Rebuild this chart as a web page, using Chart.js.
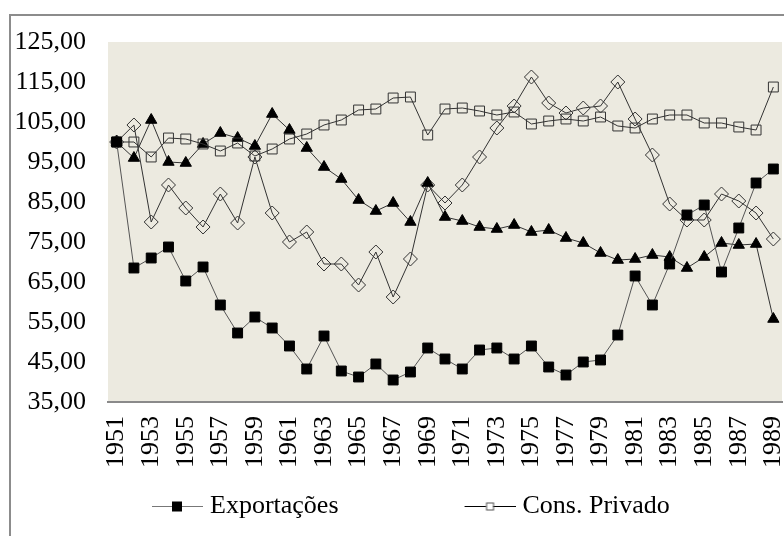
<!DOCTYPE html>
<html>
<head>
<meta charset="utf-8">
<script src="https://cdn.jsdelivr.net/npm/chart.js@4/dist/chart.umd.min.js"></script>
<style>
  html, body { margin: 0; padding: 0; background: #fff; overflow: hidden; width: 784px; height: 536px; }
  #frame { position: absolute; left: 9px; top: 14px; width: 820px; height: 560px; border: 2px solid #8c8c8c; box-sizing: border-box; }
  #chart { position: absolute; left: 0; top: 0; }
</style>
</head>
<body>
<div id="frame"></div>
<canvas id="chart" width="800" height="529"></canvas>
<script>
const years = ['1951', '1952', '1953', '1954', '1955', '1956', '1957', '1958', '1959', '1960',
    '1961', '1962', '1963', '1964', '1965', '1966', '1967', '1968', '1969', '1970',
    '1971', '1972', '1973', '1974', '1975', '1976', '1977', '1978', '1979', '1980',
    '1981', '1982', '1983', '1984', '1985', '1986', '1987', '1988', '1989'];

const exportacoes = [100, 68.5, 71, 73.75, 65.25, 68.75, 59.25, 52.25, 56.25, 53.5,
    49, 43.25, 51.5, 42.75, 41.25, 44.5, 40.5, 42.5, 48.5, 45.75,
    43.25, 48, 48.5, 45.75, 49, 43.75, 41.75, 45, 45.5, 51.75,
    66.5, 59.25, 69.5, 81.75, 84.25, 67.5, 78.5, 89.75, 93.25];

const consPrivado = [100, 100, 96.25, 101, 100.75, 99.5, 97.75, 99.75, 96.5, 98.25,
    100.75, 102, 104.25, 105.5, 108, 108.25, 111, 111.25, 101.75, 108.25,
    108.5, 107.75, 106.75, 107.5, 104.5, 105.25, 105.75, 105.25, 106.25, 104,
    103.5, 105.75, 106.75, 106.75, 104.75, 104.75, 103.75, 103, 113.75];

// series without a visible legend entry in the picture
const serieTriangulos = [100, 96, 105.5, 95, 94.75, 99.5, 102.25, 101, 99, 107,
    103, 98.5, 93.75, 90.75, 85.5, 82.75, 84.75, 80, 89.75, 81.25,
    80.25, 78.75, 78.25, 79.25, 77.5, 78, 76, 74.75, 72.25, 70.5,
    70.75, 71.75, 71.25, 68.5, 71.25, 74.75, 74.25, 74.5, 55.75];

const serieLosangos = [100, 104.25, 80, 89.25, 83.5, 78.75, 87, 79.75, 96.25, 82.25,
    75, 77.5, 69.5, 69.5, 64.25, 72.5, 61.25, 70.75, 89.25, 84.75,
    89.25, 96.25, 103.5, 109, 116.25, 109.75, 107.25, 108.5, 109, 115,
    105.75, 96.75, 84.5, 80.5, 80.5, 87, 85.25, 82.25, 75.75];

const yMin = 35, yMax = 125, yStep = 10;

const FONT = 'Liberation Serif, Times New Roman, serif';
const BOX = 153;

// little line + marker pictures for the legend (drawn at the right end of the box)
function legendMark(filled, lineColor, size) {
    const c = document.createElement('canvas');
    c.width = BOX + 12;
    c.height = 14;
    const g = c.getContext('2d');
    const x0 = c.width - 51;
    g.strokeStyle = lineColor;
    g.lineWidth = 1;
    g.beginPath();
    g.moveTo(x0, 7.5);
    g.lineTo(c.width, 7.5);
    g.stroke();
    const cx = x0 + 25;
    if (filled) {
        g.fillStyle = '#000';
        g.fillRect(cx - size / 2, 7.5 - size / 2, size, size);
    } else {
        g.fillStyle = '#fff';
        g.fillRect(cx - size / 2, 7.5 - size / 2, size, size);
        g.strokeStyle = '#555';
        g.strokeRect(cx - size / 2 + 0.5, 7 - size / 2 + 0.5, size, size);
    }
    return c;
}

const plotBg = {
    id: 'plotBg',
    beforeDraw(chart) {
        const a = chart.chartArea;
        const ctx = chart.ctx;
        ctx.save();
        ctx.fillStyle = '#ECEAE0';
        ctx.fillRect(a.left, a.top, a.right - a.left, a.bottom - a.top);
        ctx.restore();
    }
};

const shiftLegend = {
    id: 'shiftLegend',
    afterLayout(chart) {
        chart.legend.left += 11;
        chart.legend.right += 11;
    }
};

new Chart(document.getElementById('chart'), {
    type: 'line',
    data: {
        labels: years,
        datasets: [{
            label: 'Exportações',
            data: exportacoes,
            borderColor: '#555',
            borderWidth: 1,
            pointStyle: 'rect',
            pointRadius: 7,
            pointBackgroundColor: '#000',
            pointBorderColor: '#000',
            pointBorderWidth: 1
        }, {
            label: 'Cons. Privado',
            data: consPrivado,
            borderColor: '#333',
            borderWidth: 1,
            pointStyle: 'rect',
            pointRadius: 7,
            pointBackgroundColor: 'transparent',
            pointBorderColor: '#333',
            pointBorderWidth: 1
        }, {
            label: 'Série 3',
            data: serieTriangulos,
            borderColor: '#333',
            borderWidth: 1,
            pointStyle: 'triangle',
            pointRadius: 6.5,
            pointBackgroundColor: '#000',
            pointBorderColor: '#000',
            pointBorderWidth: 1
        }, {
            label: 'Série 4',
            data: serieLosangos,
            borderColor: '#333',
            borderWidth: 1,
            pointStyle: 'rectRot',
            pointRadius: 7,
            pointBackgroundColor: 'transparent',
            pointBorderColor: '#333',
            pointBorderWidth: 1
        }]
    },
    options: {
        responsive: false,
        animation: false,
        devicePixelRatio: 1,
        layout: { padding: { left: 15, top: 42, right: 18, bottom: 0 } },
        elements: { line: { tension: 0 } },
        plugins: {
            tooltip: { enabled: false },
            legend: {
                position: 'bottom',
                align: 'start',
                labels: {
                    color: '#000',
                    font: { family: FONT, size: 26 },
                    padding: 18,
                    usePointStyle: true,
                    pointStyleWidth: BOX,
                    filter: item => item.datasetIndex < 2,
                    generateLabels: chart => chart.data.datasets.map((ds, i) => ({
                        text: ds.label,
                        datasetIndex: i,
                        fontColor: '#000',
                        lineWidth: 0,
                        pointStyle: i === 0 ? legendMark(true, '#777', 10) : legendMark(false, '#000', 7)
                    }))
                }
            }
        },
        scales: {
            x: {
                offset: true,
                grid: { display: false, drawTicks: false },
                border: { display: true, color: '#8a8a8a', width: 2 },
                afterFit: scale => {
                    // the rotated year labels may hang over the plot edges
                    scale.paddingLeft = 0;
                    scale.paddingRight = 0;
                    scale.height = 73;
                },
                ticks: {
                    color: '#000',
                    font: { family: FONT, size: 26 },
                    autoSkip: false,
                    minRotation: 90,
                    maxRotation: 90,
                    padding: 14,
                    callback: function (val, index) {
                        return index % 2 === 0 ? this.getLabelForValue(val) : '';
                    }
                }
            },
            y: {
                min: yMin,
                max: yMax,
                grid: { display: false, drawTicks: false },
                border: { display: false },
                afterFit: scale => { scale.width = 93; },
                ticks: {
                    stepSize: yStep,
                    color: '#000',
                    font: { family: FONT, size: 26 },
                    padding: 22,
                    callback: v => v.toFixed(2).replace('.', ',')
                }
            }
        }
    },
    plugins: [plotBg, shiftLegend]
});
</script>
</body>
</html>
